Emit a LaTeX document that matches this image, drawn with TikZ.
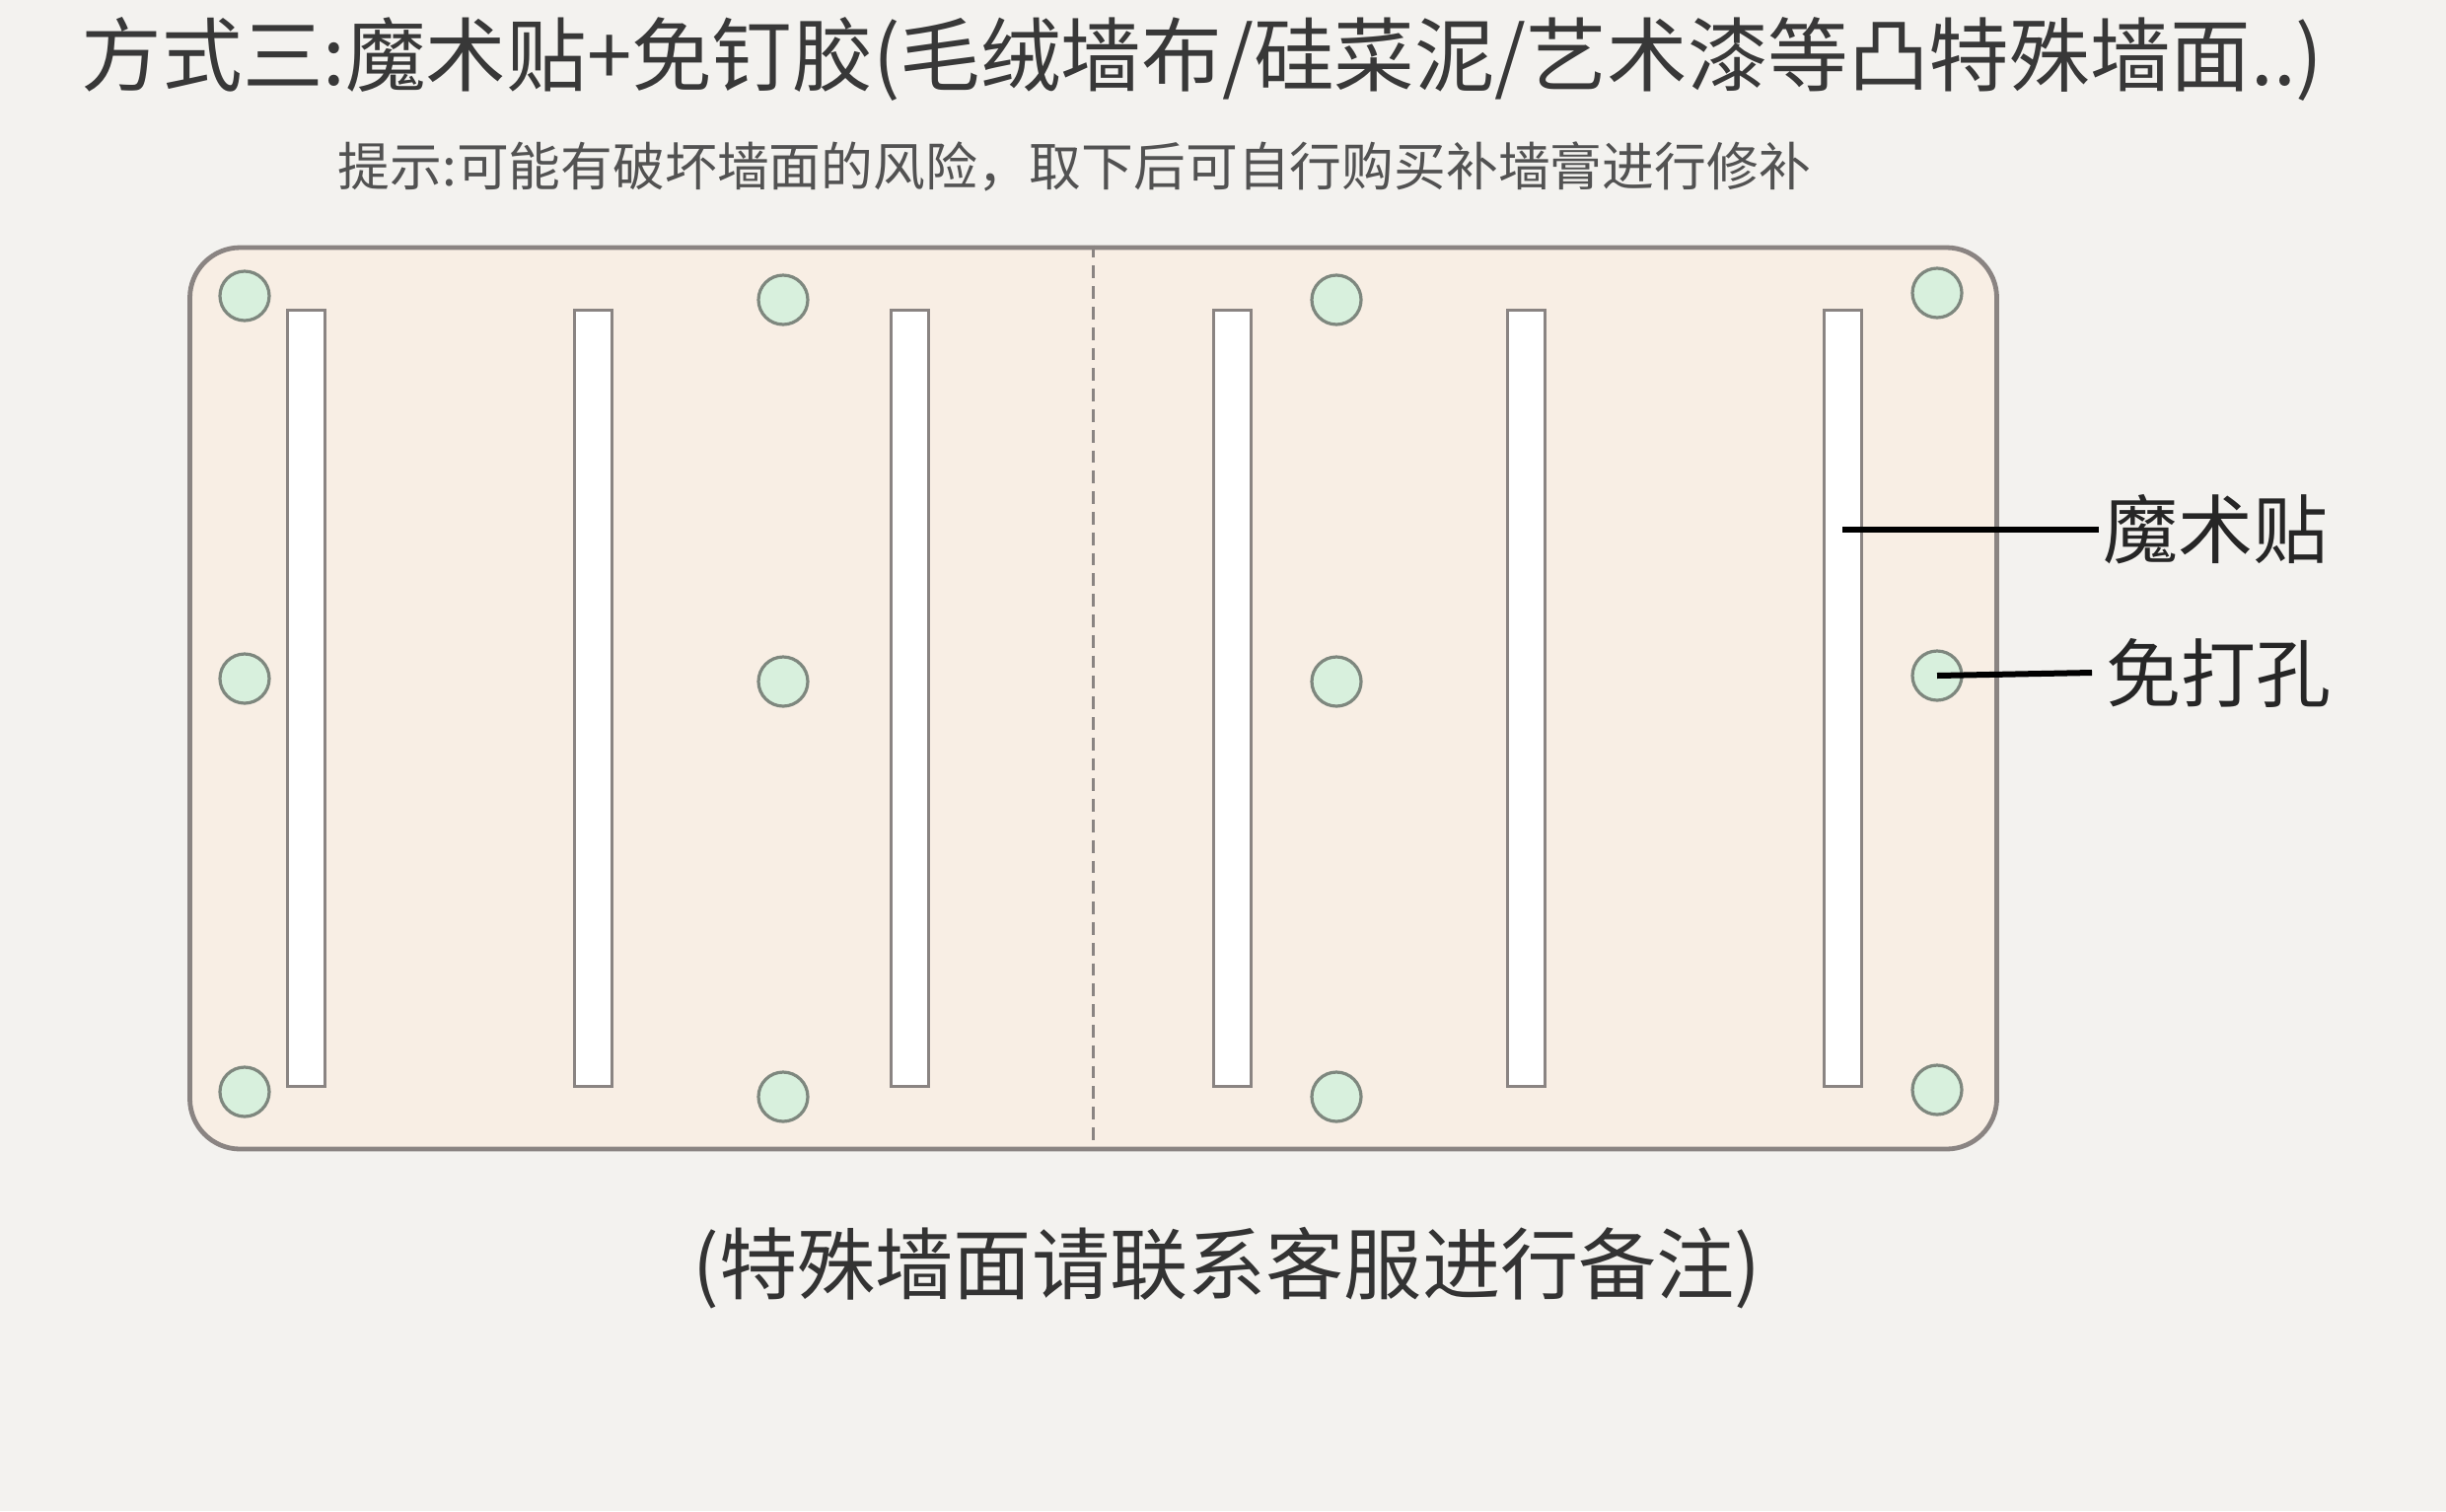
\documentclass[tikz,border=0pt]{standalone}
\usepackage{fontspec}
\setmainfont{Noto Sans CJK SC}
\definecolor{bgc}{HTML}{F3F2EF}
\definecolor{boardc}{HTML}{F8EEE4}
\definecolor{edgec}{HTML}{8A8482}
\definecolor{holec}{HTML}{D8F0DD}
\definecolor{holeedge}{HTML}{7E877E}

\begin{document}
\begin{tikzpicture}[x=0.25pt,y=-0.25pt,
  strip/.style={draw=edgec,fill=white,line width=0.75pt,minimum width=9.5pt,minimum height=196.75pt,inner sep=0pt},
  hole/.style={circle,draw=holeedge,fill=holec,line width=0.8pt,minimum size=12.5pt,inner sep=0pt},
  lbl/.style={inner sep=0pt,text=black!85,font=\fontsize{19pt}{19pt}\selectfont}]
\useasboundingbox[fill=bgc] (0,0) rectangle (2480,1532);

\node[anchor=west,inner sep=0pt,text=black!78,font=\fontsize{20.4pt}{20.4pt}\selectfont] (title) at (82, 60) {方式三:魔术贴+免钉胶(毛绒墙布/硅菜泥/艺术漆等凸特殊墙面..)};
\node[anchor=west,inner sep=0pt,text=black!68,font=\fontsize{13.2pt}{13.2pt}\selectfont] (tip) at (342, 169) {提示:可能有破坏墙面的风险，取下后可自行购买补墙膏进行修补};

\node[draw=edgec,fill=boardc,line width=1.2pt,rounded corners=12.75pt,minimum width=458pt,minimum height=228.5pt] (board) at (1108.5, 708) {};
\draw[edgec,line width=0.7pt,dash pattern=on 3.2pt off 2pt] (board.north) -- (board.south);

\node[strip] (s1) at (310, 708) {};
\node[strip] (s2) at (601, 708) {};
\node[strip] (s3) at (922, 708) {};
\node[strip] (s4) at (1249, 708) {};
\node[strip] (s5) at (1547, 708) {};
\node[strip] (s6) at (1868, 708) {};

\node[hole] (h11) at (248, 300) {};
\node[hole] (h12) at (248, 688) {};
\node[hole] (h13) at (248, 1107) {};
\node[hole] (h21) at (794, 304) {};
\node[hole] (h22) at (794, 691) {};
\node[hole] (h23) at (794, 1112) {};
\node[hole] (h31) at (1355, 304) {};
\node[hole] (h32) at (1355, 691) {};
\node[hole] (h33) at (1355, 1112) {};
\node[hole] (h41) at (1964, 297) {};
\node[hole] (h42) at (1964, 685) {};
\node[hole] (h43) at (1964, 1105) {};

\node[lbl,anchor=west] (tape) at (2132, 537) {魔术贴};
\node[lbl,anchor=west] (nodrill) at (2135, 682) {免打孔};
\draw[line width=1.5pt] (s6.center |- tape.west) -- ([xshift=-1pt]tape.west);
\draw[line width=1.5pt] (h42.center) -- ([xshift=-3.5pt]nodrill.west);

\node[inner sep=0pt,text=black!80,font=\fontsize{19.8pt}{19.8pt}\selectfont] (note) at (1244, 1286) {(特殊墙面请联系客服进行备注)};
\end{tikzpicture}
\end{document}
